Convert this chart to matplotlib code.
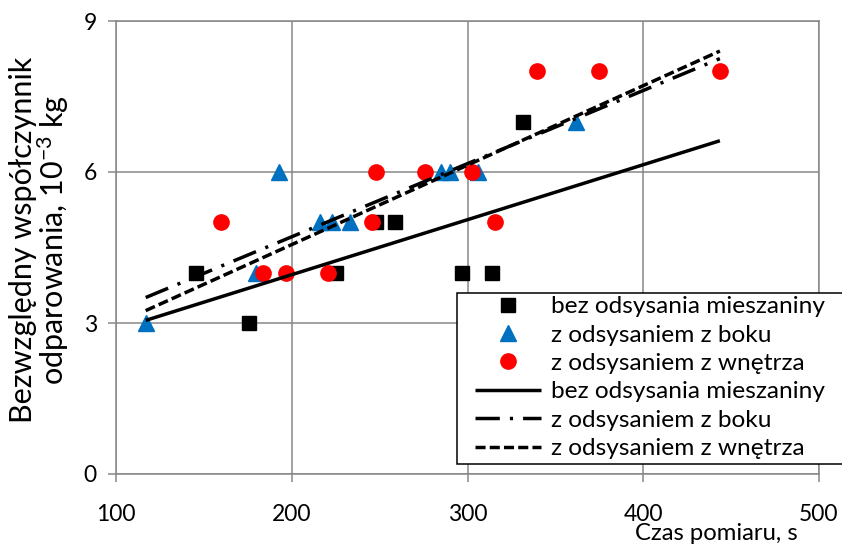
import numpy as np
import matplotlib
matplotlib.use('Agg')
import matplotlib.pyplot as plt
from matplotlib.lines import Line2D
from matplotlib.patches import Rectangle

# ---- data ----
bez_x = [145.8, 175.7, 225.0, 247.7, 258.7, 296.8, 314.0, 331.8]
bez_y = [4, 3, 4, 5, 5, 4, 4, 7]
boku_x = [116.9, 179.9, 192.8, 215.9, 222.9, 233.3, 284.7, 289.8, 305.9, 361.7]
boku_y = [3, 4, 6, 5, 5, 5, 6, 6, 6, 7]
wn_x = [159.8, 183.7, 196.6, 220.8, 245.8, 247.7, 275.7, 302.7, 315.5, 339.8, 374.6, 443.6]
wn_y = [5, 4, 4, 4, 5, 6, 6, 6, 5, 8, 8, 8]
series_labels = ['bez odsysania mieszaniny', 'z odsysaniem z boku', 'z odsysaniem z wnętrza']
x_ticks = [100, 200, 300, 400, 500]
y_ticks = [0, 3, 6, 9]
x_label = 'Czas pomiaru, s'
y_label = 'Bezwzględny współczynnik\nodparowania, 10$^{-3}$ kg'

plt.rcParams['font.family'] = ['Lato', 'DejaVu Sans']
plt.rcParams['mathtext.fontset'] = 'custom'
plt.rcParams['mathtext.rm'] = 'Lato'
plt.rcParams['mathtext.it'] = 'Lato'

W, H = 842, 546
fig = plt.figure(figsize=(W / 100, H / 100), dpi=100)
ax = fig.add_axes([116 / W, 1 - 474 / H, (819 - 116) / W, (474 - 21) / H])

grey = '#878787'
ax.set_xlim(100, 500)
ax.set_ylim(0, 9)
ax.set_xticks(x_ticks)
ax.set_yticks(y_ticks)
ax.grid(True, color=grey, lw=1.1, zorder=0)
ax.set_axisbelow(True)
for s in ax.spines.values():
    s.set_color(grey)
    s.set_linewidth(1.1)
ax.tick_params(axis='both', direction='out', length=5.8, width=1.1, color=grey,
               labelsize=16.5, labelcolor='black')
ax.tick_params(axis='x', pad=16)
ax.tick_params(axis='y', pad=8)

colors = ['black', '#0070C0', '#FF0000']
markers = ['s', '^', 'o']
msizes = [10.5, 11.5, 11]
xs = [bez_x, boku_x, wn_x]
ys = [bez_y, boku_y, wn_y]

for x, y, c, m, ms in zip(xs, ys, colors, markers, msizes):
    ax.plot(x, y, linestyle='none', marker=m, ms=ms, color=c, mec=c, zorder=3,
            clip_on=False)

# linear trend lines over the full x range of all data
all_x = np.concatenate([np.asarray(v, float) for v in xs])
tx = np.array([all_x.min(), all_x.max()])
lw = 2.5
styles = [dict(linestyle='-'),
          dict(dashes=(7.0, 2.9, 0.9, 2.9)),
          dict(dashes=(2.9, 1.2))]
for x, y, st in zip(xs, ys, styles):
    k, b = np.polyfit(x, y, 1)
    ax.plot(tx, k * tx + b, color='black', lw=lw, zorder=4,
            dash_capstyle='butt', solid_capstyle='butt', **st)

marker_handles = [Line2D([], [], linestyle='none', marker=m, ms=ms, color=c)
                  for c, m, ms in zip(colors, markers, msizes)]
line_handles = [Line2D([], [], color='black', lw=lw, dash_capstyle='butt',
                       solid_capstyle='butt', **st)
                for st in styles]

# legend box (white, black border, runs past the right edge)
fig.patches.append(Rectangle((457 / W, 1 - 464 / H), (846 - 457) / W, (464 - 293) / H,
                             transform=fig.transFigure, facecolor='white',
                             edgecolor='black', lw=1.1, zorder=4))
leg = fig.legend(marker_handles + line_handles, series_labels + series_labels,
                 loc='upper left', bbox_to_anchor=(475 / W, 1 - 296 / H),
                 bbox_transform=fig.transFigure,
                 fontsize=17.6, frameon=False, borderpad=0, labelspacing=0.3,
                 handlelength=2.7, handletextpad=0.42, borderaxespad=0,
                 numpoints=1)
leg.set_zorder(5)

fig.text(40 / W, 1 - 240 / H, y_label, rotation=90, ha='center', va='center',
         multialignment='center', fontsize=22, linespacing=0.93)
fig.text(716 / W, 1 - 523 / H, x_label, ha='center', va='top', fontsize=17.2)

fig.savefig('out.png', dpi=100)
